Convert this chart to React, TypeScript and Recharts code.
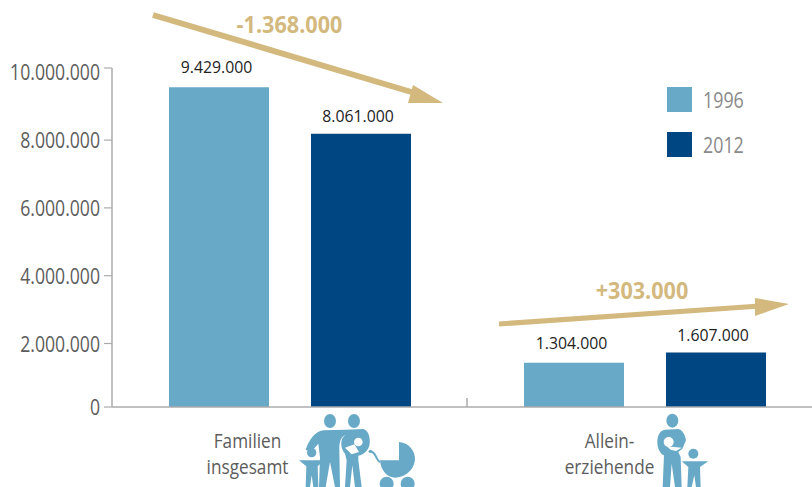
/**
 * Familien in Deutschland, 1996 und 2012: grouped bars with change arrows.
 */

import { BarChart, Bar, XAxis, YAxis, Legend, LabelList } from 'recharts';

const CATEGORIES = ['Familien insgesamt', 'Alleinerziehende'];
const VALUES_1996 = [9429000, 1304000];
const VALUES_2012 = [8061000, 1607000];
const Y_TICKS = [0, 2000000, 4000000, 6000000, 8000000, 10000000];
const TICK_LINES = [['Familien', 'insgesamt'], ['Allein-', 'erziehende']];

const LIGHT_BLUE = '#68A9C8';
const DARK_BLUE = '#004683';
const GOLD = '#D3B97E';
const AXIS_GREY = '#ababab';
const TEXT_GREY = '#5c5c5c';
const FONT = '"Open Sans", sans-serif';

const chartData = CATEGORIES.map((name, i) => ({
  name,
  y1996: VALUES_1996[i],
  y2012: VALUES_2012[i],
}));

const formatNumber = (value: number) => value.toLocaleString('de-DE');

// Open Sans squeezed horizontally, none of the installed fonts is condensed
function NarrowText({ x, y, squeeze, children, ...rest }: any) {
  return (
    <text transform={`translate(${x} ${y}) scale(${squeeze} 1)`} fontFamily={FONT} {...rest}>
      {children}
    </text>
  );
}

// the tick marks between top and bottom sit slightly below their scale position
function ValueTick({ x, y, payload }: any) {
  const isEnd = payload.value === 0 || payload.value === 10000000;
  const tickY = isEnd ? y : y + 4.3;
  const labelY = payload.value === 10000000 ? tickY + 12 : tickY + 8;
  return (
    <g>
      <line x1={x - 8} x2={x} y1={tickY} y2={tickY} stroke={AXIS_GREY} strokeWidth={1.2} />
      <NarrowText x={x - 12} y={labelY} squeeze={0.84} textAnchor="end" fontSize={21} fill={TEXT_GREY}>
        {formatNumber(payload.value)}
      </NarrowText>
    </g>
  );
}

// two-line category label, set left of the group centre to leave room for the icon
function CategoryTick({ x, y, index }: any) {
  const lines = TICK_LINES[index];
  const offset = index === 0 ? -42 : -35;
  return (
    <g>
      {index === 0 && <line x1={x + 177.5} x2={x + 177.5} y1={y - 9} y2={y} stroke={AXIS_GREY} strokeWidth={1.5} />}
      {lines.map((line, i) => (
        <NarrowText key={line} x={x + offset} y={y + 41 + i * 25.5} squeeze={0.86} textAnchor="middle" fontSize={20} fill={TEXT_GREY}>
          {line}
        </NarrowText>
      ))}
    </g>
  );
}

function BarValue({ x, y, width, value, gap, shift }: any) {
  return (
    <NarrowText x={x + width / 2 + shift} y={y - gap} squeeze={0.93} textAnchor="middle" fontSize={17} fill="#222">
      {formatNumber(value)}
    </NarrowText>
  );
}

function YearLegend({ payload }: any) {
  return (
    <div>
      {(payload ?? []).map((entry: any) => (
        <div key={entry.value} style={{ display: 'flex', alignItems: 'center', height: 25, marginBottom: 20 }}>
          <span style={{ width: 25, height: 25, background: entry.color, marginRight: 11 }} />
          <span style={{ fontFamily: FONT, fontSize: 21, color: '#8a8a8a', transform: 'scaleX(0.85)', transformOrigin: 'left' }}>
            {entry.value}
          </span>
        </div>
      ))}
    </div>
  );
}

function ChangeArrows() {
  return (
    <g fill={GOLD} stroke="none">
      <line x1={153} y1={15} x2={418} y2={94} stroke={GOLD} strokeWidth={6} />
      <path d="M443,103 L413,85 L408,103 Z" />
      <line x1={499} y1={324} x2={760} y2={306} stroke={GOLD} strokeWidth={5} />
      <path d="M789,304 L755,298 L755,316 Z" />
      <NarrowText x={289.5} y={33} squeeze={0.94} textAnchor="middle" fontSize={23} fontWeight={700}>-1.368.000</NarrowText>
      <NarrowText x={642} y={299} squeeze={0.94} textAnchor="middle" fontSize={23} fontWeight={700}>+303.000</NarrowText>
    </g>
  );
}

// family pictogram, drawn on a 3x grid
function FamilyIcon() {
  return (
    <g transform="translate(295 407) scale(0.3333)" fill={LIGHT_BLUE}>
      <ellipse cx={105} cy={42} rx={18} ry={21} />
      <ellipse cx={177} cy={42} rx={18} ry={21} />
      <path d="M32,128 C42,100 58,74 85,70 L150,68 L150,85 C138,90 133,105 133,125 L135,240 L120,240 L105,165 L92,240 L72,240 L75,150 L70,110 L48,135 Z" />
      <path d="M150,68 L205,66 C220,70 226,90 224,110 C222,130 205,143 190,146 L190,160 L200,240 L180,240 L172,175 L165,240 L150,240 L155,160 L150,140 C135,125 135,95 150,85 Z" />
      <circle cx={190} cy={105} r={13} fill="#fff" />
      <path d="M150,122 L178,112 L192,135 L170,142 Z" fill="#fff" />
      <circle cx={50} cy={137} r={14} />
      <path d="M12,160 L88,160 L68,178 L70,240 L55,240 L50,205 L45,240 L32,240 L34,178 Z" />
      <path d="M312,105 C345,108 362,135 360,160 C355,195 325,212 300,212 C280,212 258,195 255,160 L312,160 Z" />
      <path d="M225,133 C245,135 242,160 255,165" fill="none" stroke={LIGHT_BLUE} strokeWidth={6} />
      <circle cx={226} cy={133} r={5} />
      <circle cx={275} cy={230} r={21} />
      <circle cx={338} cy={230} r={21} />
    </g>
  );
}

function SingleParentIcon() {
  return (
    <g transform="translate(650 407) scale(0.3333)" fill={LIGHT_BLUE}>
      <ellipse cx={67} cy={41} rx={18} ry={21} />
      <path d="M45,68 C30,70 22,85 22,105 C22,130 35,143 42,145 L38,240 L60,240 L65,170 L75,240 L95,240 L92,150 L85,135 L97,125 L108,100 C105,80 95,68 85,66 Z" />
      <circle cx={56} cy={105} r={15} fill="#fff" />
      <path d="M50,118 L95,122 L78,132 L62,128 Z" fill="#fff" />
      <circle cx={130} cy={140} r={15} />
      <path d="M95,163 L175,163 L150,180 L152,240 L138,240 L133,205 L125,240 L112,240 L115,180 Z" />
    </g>
  );
}

export default function App() {
  return (
    <div style={{ position: 'absolute', left: 0, top: 0, width: 812, height: 487, overflow: 'hidden', background: '#fff' }}>
      <BarChart
        width={822}
        height={487}
        data={chartData}
        barSize={100}
        barGap={42}
        margin={{ top: 68, right: 0, bottom: 0, left: 0 }}
      >
        <XAxis
          dataKey="name"
          height={80}
          interval={0}
          axisLine={{ stroke: AXIS_GREY, strokeWidth: 1.5 }}
          tickLine={false}
          tickSize={0}
          tickMargin={0}
          tick={<CategoryTick />}
        />
        <YAxis
          width={112}
          domain={[0, 10000000]}
          ticks={Y_TICKS}
          interval={0}
          axisLine={{ stroke: AXIS_GREY, strokeWidth: 1.5 }}
          tickLine={false}
          tickSize={0}
          tickMargin={0}
          tick={<ValueTick />}
        />
        <Legend
          layout="vertical"
          align="center"
          verticalAlign="middle"
          content={<YearLegend />}
          wrapperStyle={{ position: 'absolute', left: 667, top: 87, width: 120, bottom: 'auto' }}
        />
        <Bar dataKey="y1996" name="1996" fill={LIGHT_BLUE} isAnimationActive={false}>
          <LabelList dataKey="y1996" content={<BarValue gap={14} shift={-2.5} />} />
        </Bar>
        <Bar dataKey="y2012" name="2012" fill={DARK_BLUE} isAnimationActive={false}>
          <LabelList dataKey="y2012" content={<BarValue gap={12} shift={-3} />} />
        </Bar>
        <ChangeArrows />
        <FamilyIcon />
        <SingleParentIcon />
      </BarChart>
    </div>
  );
}
